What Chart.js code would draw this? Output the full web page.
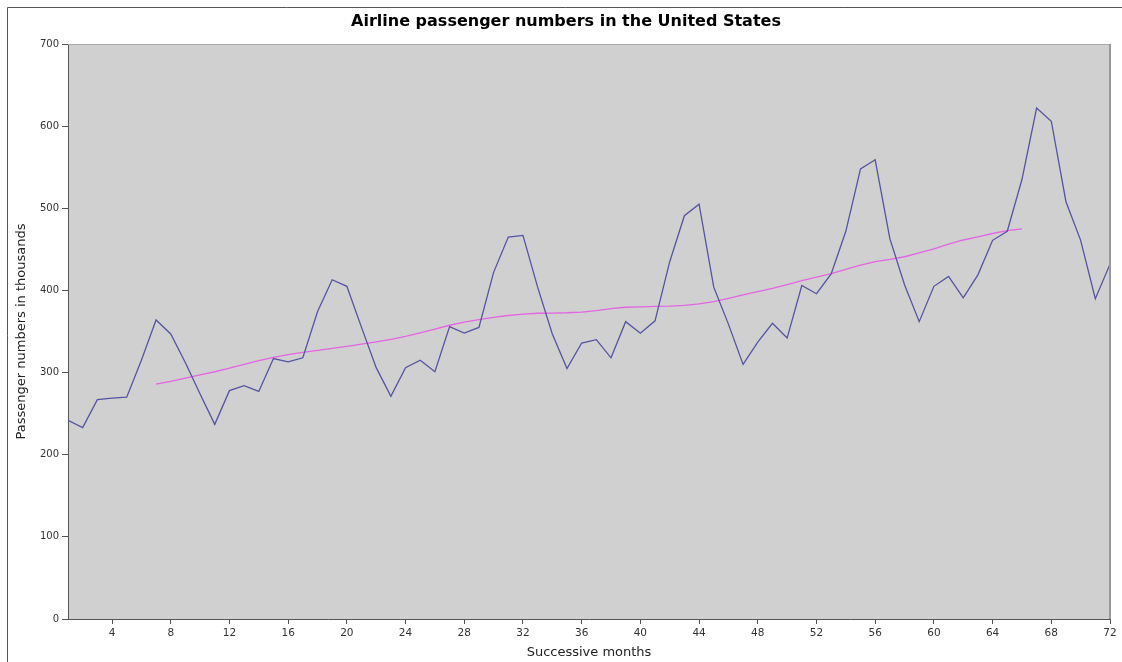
<!DOCTYPE html>
<html>
<head>
<meta charset="utf-8">
<script src="https://cdn.jsdelivr.net/npm/chart.js@4.4.1/dist/chart.umd.min.js"></script>
<style>
  html, body { margin: 0; padding: 0; background: #fff; }
  #wrap { width: 1122px; height: 662px; }
</style>
</head>
<body>
<div id="wrap"><canvas id="myChart" width="1122" height="662"></canvas></div>
<script>
// months 1..72 (last six years of the airline series)
const months = Array.from({ length: 72 }, (_, i) => i + 1);

const passengers = [
    242, 233, 267, 269, 270, 315, 364, 347, 312, 274, 237, 278,
    284, 277, 317, 313, 318, 374, 413, 405, 355, 306, 271, 306,
    315, 301, 356, 348, 355, 422, 465, 467, 404, 347, 305, 336,
    340, 318, 362, 348, 363, 435, 491, 505, 404, 359, 310, 337,
    360, 342, 406, 396, 420, 472, 548, 559, 463, 407, 362, 405,
    417, 391, 419, 461, 472, 535, 622, 606, 508, 461, 390, 432
];

// smoothed trend line, months 7..66
const trend = [
    null, null, null, null, null, null,
    285.8, 289.3, 293.3, 297.2, 301.0, 305.5, 310.0, 314.4, 318.6, 321.8,
    324.5, 327.1, 329.5, 331.8, 334.5, 337.5, 340.5, 344.1, 348.3, 353.0,
    357.6, 361.4, 364.5, 367.2, 369.5, 371.2, 372.2, 372.4, 372.8, 373.6,
    375.3, 377.9, 379.5, 380.0, 380.7, 381.0, 381.8, 383.7, 386.5, 390.3,
    394.7, 398.6, 402.5, 407.2, 411.9, 416.3, 420.5, 425.5, 430.7, 435.1,
    437.7, 441.0, 445.8, 450.6, 456.3, 461.4, 465.2, 469.3, 472.8, 475.0,
    null, null, null, null, null, null
];

const xTicks = [4, 8, 12, 16, 20, 24, 28, 32, 36, 40, 44, 48, 52, 56, 60, 64, 68, 72];
const yTicks = [0, 100, 200, 300, 400, 500, 600, 700];

const FONT = 'DejaVu Sans';

const plotFrame = {
    id: 'plotFrame',
    beforeDraw(chart) {
        const { ctx, chartArea: a } = chart;
        ctx.save();
        ctx.fillStyle = '#ffffff';
        ctx.fillRect(0, 0, chart.width, chart.height);
        // outer frame (left and top edges visible)
        ctx.strokeStyle = '#555';
        ctx.lineWidth = 1;
        ctx.beginPath();
        ctx.moveTo(7.5, chart.height + 2);
        ctx.lineTo(7.5, 7.5);
        ctx.lineTo(chart.width + 2, 7.5);
        ctx.stroke();
        ctx.fillStyle = '#d0d0d0';
        ctx.fillRect(a.left, a.top, a.right - a.left, a.bottom - a.top);
        ctx.restore();
    },
    afterDraw(chart) {
        const { ctx, chartArea: a } = chart;
        ctx.save();
        ctx.strokeStyle = '#a8a8a8';
        ctx.lineWidth = 1;
        ctx.beginPath();
        ctx.moveTo(a.left, a.top + 0.5);
        ctx.lineTo(a.right, a.top + 0.5);
        ctx.stroke();
        ctx.strokeStyle = '#999';
        ctx.lineWidth = 2;
        ctx.beginPath();
        ctx.moveTo(a.right, a.top);
        ctx.lineTo(a.right, a.bottom);
        ctx.stroke();
        ctx.restore();
    }
};

const ctx = document.getElementById('myChart').getContext('2d');
const myChart = new Chart(ctx, {
    type: 'line',
    data: {
        labels: months,
        datasets: [{
            data: passengers,
            borderColor: '#5454a2',
            borderWidth: 1.3,
            pointRadius: 0,
            tension: 0
        }, {
            data: trend,
            borderColor: '#e266e2',
            borderWidth: 1.3,
            pointRadius: 0,
            tension: 0,
            spanGaps: false
        }]
    },
    plugins: [plotFrame],
    options: {
        responsive: false,
        animation: false,
        layout: { padding: { left: 22, right: 12, top: 8, bottom: 0 } },
        plugins: {
            legend: { display: false },
            tooltip: { enabled: false },
            title: {
                display: true,
                text: 'Airline passenger numbers in the United States',
                color: '#000',
                font: { family: FONT, size: 16, weight: 'bold', lineHeight: 1.1 },
                padding: { top: 5, bottom: 13.4 }
            }
        },
        scales: {
            x: {
                type: 'linear',
                min: 1,
                max: 72,
                afterBuildTicks: scale => { scale.ticks = xTicks.map(v => ({ value: v })); },
                afterFit: scale => { scale.height = 43; },
                grid: { drawOnChartArea: false, tickLength: 5, color: '#555' },
                border: { color: '#555', width: 1 },
                ticks: {
                    autoSkip: false,
                    maxRotation: 0,
                    padding: 3,
                    color: '#333',
                    font: { family: FONT, size: 10.5 }
                },
                title: {
                    display: true,
                    text: 'Successive months',
                    color: '#222',
                    font: { family: FONT, size: 13 },
                    padding: { top: 0, bottom: 2 }
                }
            },
            y: {
                min: 0,
                max: 700,
                afterBuildTicks: scale => { scale.ticks = yTicks.map(v => ({ value: v })); },
                afterFit: scale => { scale.width = 46; },
                grid: { drawOnChartArea: false, tickLength: 6, color: '#555' },
                border: { color: '#555', width: 1 },
                ticks: {
                    padding: 3,
                    color: '#333',
                    font: { family: FONT, size: 10 }
                },
                title: {
                    display: true,
                    text: 'Passenger numbers in thousands',
                    color: '#222',
                    font: { family: FONT, size: 13 },
                    padding: { top: -8, bottom: 0 }
                }
            }
        }
    }
});
</script>
</body>
</html>
